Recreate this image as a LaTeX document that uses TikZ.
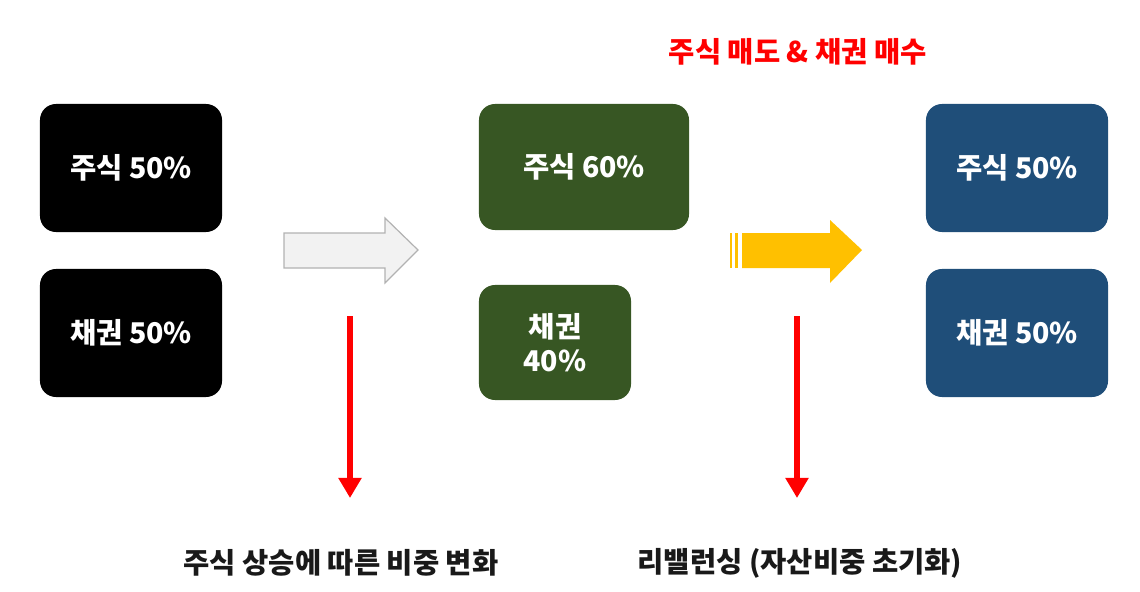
\documentclass[tikz,border=0pt]{standalone}
\usepackage{fontspec}
\setmainfont{Noto Sans CJK KR}
\usetikzlibrary{arrows.meta}
\definecolor{stockgreen}{HTML}{375623}
\definecolor{bondblue}{HTML}{1F4E79}
\definecolor{flowyellow}{HTML}{FFC000}

\begin{document}
\begin{tikzpicture}[
  x=0.025cm,y=-0.025cm,
  box/.style={rounded corners=0.4cm,inner sep=0pt,align=center,
    font=\bfseries\fontsize{20.3}{24}\selectfont,text=white},
  wide/.style={box,minimum width=4.55cm,minimum height=3.2cm},
  caption/.style={font=\bfseries\fontsize{20.3}{24}\selectfont,text=black!90},
  downarrow/.style={draw=red,line width=0.15cm,-{Triangle[width=0.55cm,length=0.5cm]}},
]
\useasboundingbox (0,0) rectangle (1140,592);
% before: 50/50
\node[wide,fill=black] (s0) at (131,168) {주식 50\%};
\node[wide,fill=black] (b0) at (131,333) {채권 50\%};
% after the rally
\node[box,fill=stockgreen,minimum width=5.25cm,minimum height=3.15cm] (s1) at (584,167) {주식 60\%};
\node[box,fill=stockgreen,minimum width=3.8cm,minimum height=2.875cm] (b1) at (555,342.5) {채권\\40\%};
% rebalanced
\node[wide,fill=bondblue] (s2) at (1017,168) {주식 50\%};
\node[wide,fill=bondblue] (b2) at (1017,333) {채권 50\%};
% block arrows
\draw[fill=gray!10,draw=gray!60,line width=0.03cm]
  (284,233)--(385,233)--(385,218)--(418,250)--(385,283)--(385,268)--(284,268)--cycle;
\fill[flowyellow] (742,233)--(830,233)--(830,220)--(862,250)--(830,283)--(830,268)--(742,268)--cycle;
\foreach \x/\w in {730/2,735/3}
  \fill[flowyellow] (\x,233) rectangle (\x+\w,268);
% labels
\node[font=\bfseries\fontsize{20.3}{24}\selectfont,text=red] (deal) at (798,52) {주식 매도 \& 채권 매수};
\node[caption] (lab1) at (341,563) {주식 상승에 따른 비중 변화};
\node[caption] (lab2) at (800,563) {리밸런싱 (자산비중 초기화)};
\coordinate (up1) at (350,316);
\coordinate (dn1) at (350,498);
\coordinate (up2) at (797,316);
\coordinate (dn2) at (797,498);
\draw[downarrow] (up1)--(dn1);
\draw[downarrow] (up2)--(dn2);
\end{tikzpicture}
\end{document}
